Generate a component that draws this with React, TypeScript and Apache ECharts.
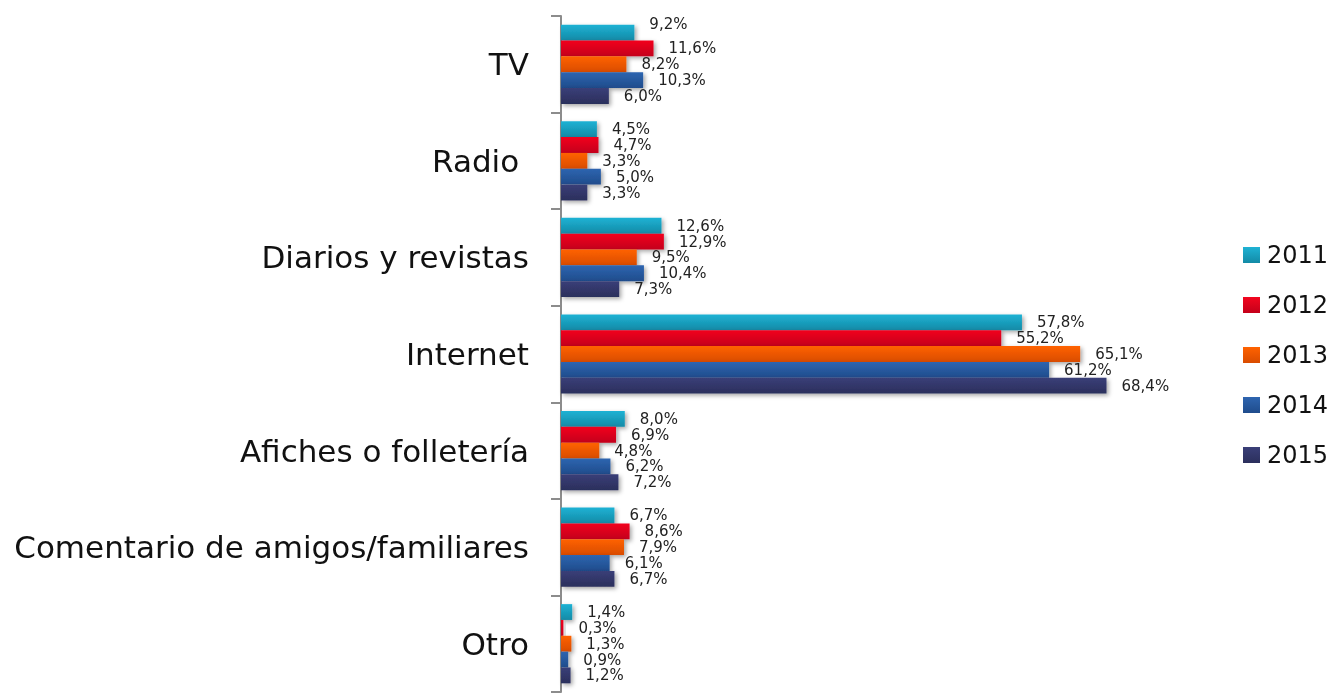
import React, { useEffect, useRef } from "react";
import * as echarts from "echarts";

const categories = [
  "TV",
  "Radio ",
  "Diarios y revistas",
  "Internet",
  "Afiches o folletería",
  "Comentario de amigos/familiares",
  "Otro",
];
const years = ["2011", "2012", "2013", "2014", "2015"];
const v2011 = [9.2, 4.5, 12.6, 57.8, 8.0, 6.7, 1.4];
const v2012 = [11.6, 4.7, 12.9, 55.2, 6.9, 8.6, 0.3];
const v2013 = [8.2, 3.3, 9.5, 65.1, 4.8, 7.9, 1.3];
const v2014 = [10.3, 5.0, 10.4, 61.2, 6.2, 6.1, 0.9];
const v2015 = [6.0, 3.3, 7.3, 68.4, 7.2, 6.7, 1.2];
const seriesValues = [v2011, v2012, v2013, v2014, v2015];

const colors = [
  ["#1fb2d4", "#138aa6"],
  ["#f2061f", "#c4001a"],
  ["#ff6200", "#d94c00"],
  ["#2e65b0", "#1f4c8c"],
  ["#3a3f78", "#2b2f5c"],
];

const FONT = "DejaVu Sans";

export default function App() {
  const ref = useRef<HTMLDivElement>(null);
  useEffect(() => {
    const chart = echarts.init(ref.current!, null, { renderer: "svg" });
    const fmt = (p: any) =>
      (p.value as number).toFixed(1).replace(".", ",") + "%";
    chart.setOption({
      animation: false,
      grid: { left: 561, top: 16, width: 638, height: 676 },
      legend: {
        orient: "vertical",
        left: 1238,
        top: 238,
        itemWidth: 17,
        itemHeight: 16,
        itemGap: 26,
        icon: "rect",
        textStyle: {
          fontFamily: FONT,
          fontSize: 24,
          lineHeight: 24,
          color: "#111",
          padding: [0, 0, 0, 2],
        },
        data: years,
      },
      xAxis: {
        type: "value",
        min: 0,
        max: 80,
        show: false,
      },
      yAxis: {
        type: "category",
        inverse: true,
        data: categories,
        axisLine: { show: true, lineStyle: { color: "#8c8c8c", width: 2 } },
        axisTick: { show: true, length: 10, lineStyle: { color: "#8c8c8c", width: 2 } },
        axisLabel: {
          fontFamily: FONT,
          fontSize: 31,
          color: "#111",
          margin: 32,
        },
        splitLine: { show: false },
      },
      series: seriesValues.map((vals, i) => ({
        name: years[i],
        type: "bar",
        barGap: "0%",
        barCategoryGap: "18%",
        data: vals.map((v, j) => {
          const item: any = { value: v };
          if (i === 0 && j === 0) item.label = { offset: [0, -9] };
          return item;
        }),
        itemStyle: {
          color: new echarts.graphic.LinearGradient(0, 0, 0, 1, [
            { offset: 0, color: colors[i][0] },
            { offset: 1, color: colors[i][1] },
          ]),
          shadowColor: "rgba(0,0,0,0.35)",
          shadowBlur: 4,
          shadowOffsetX: 2,
          shadowOffsetY: 2,
        },
        label: {
          show: true,
          position: "right",
          distance: 15,
          formatter: fmt,
          fontFamily: FONT,
          fontSize: 15,
          color: "#222",
        },
      })),
    });
    return () => chart.dispose();
  }, []);
  return (
    <div
      ref={ref}
      style={{ position: "fixed", left: 0, top: 0, width: 1333, height: 693 }}
    />
  );
}
